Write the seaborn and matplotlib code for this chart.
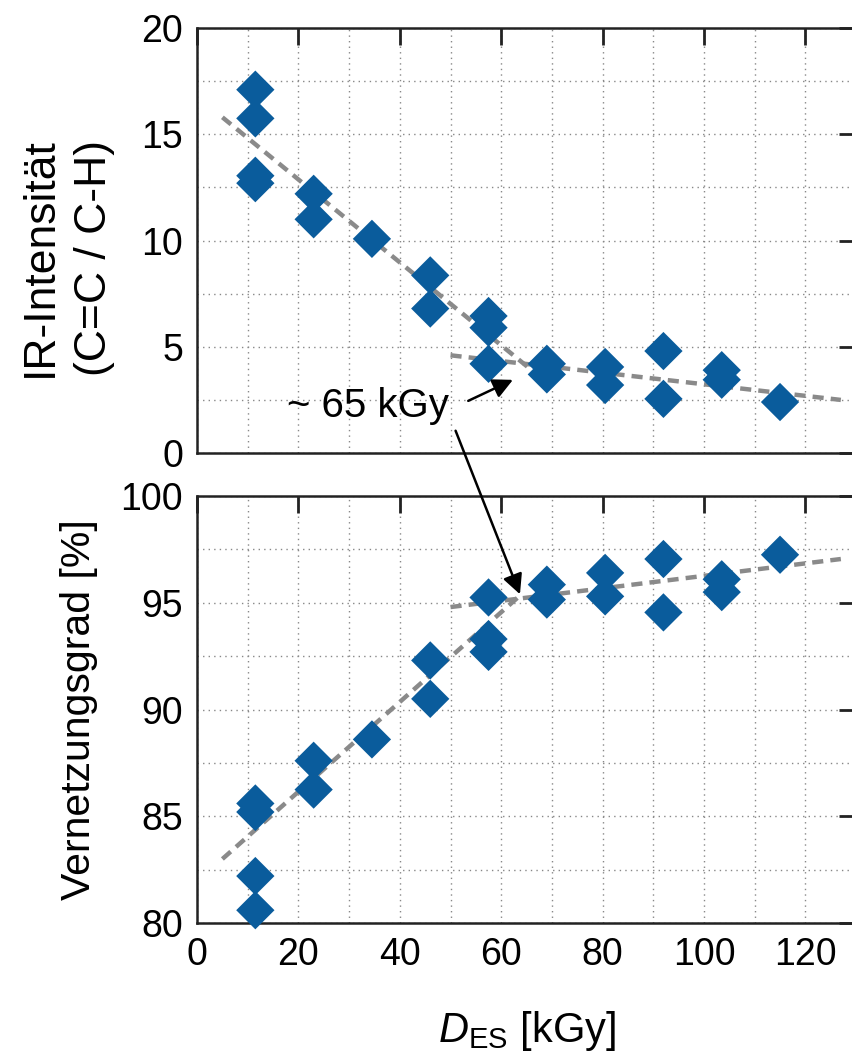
import numpy as np
import seaborn as sns
from matplotlib import pyplot as plt
from matplotlib.patches import ConnectionPatch

# Dose steps (kGy) for every measured point
dose_ir = [11.5, 11.5, 11.5, 11.5, 23, 23, 34.5, 46, 46, 57.5, 57.5, 57.5,
           69, 69, 80.5, 80.5, 92, 92, 103.5, 103.5, 115]
ir = [17.1, 15.75, 13.05, 12.7, 12.2, 11.0, 10.08, 8.36, 6.8, 6.45, 5.9, 4.2,
      4.2, 3.7, 4.05, 3.2, 4.8, 2.55, 3.9, 3.45, 2.4]

dose_vg = [11.5, 11.5, 11.5, 11.5, 23, 23, 34.5, 46, 46, 57.5, 57.5, 57.5,
           69, 69, 80.5, 80.5, 92, 92, 103.5, 103.5, 115]
vg = [85.6, 85.2, 82.2, 80.6, 87.6, 86.25, 88.6, 92.3, 90.5, 95.25, 93.3, 92.7,
      95.85, 95.15, 96.4, 95.3, 97.05, 94.55, 96.1, 95.5, 97.25]

# trend lines (end points)
ir_fit1_x, ir_fit1_y = [5, 66], [15.8, 3.9]
ir_fit2_x, ir_fit2_y = [50, 127], [4.6, 2.5]
vg_fit1_x, vg_fit1_y = [5, 64], [83.0, 95.4]
vg_fit2_x, vg_fit2_y = [50, 127], [94.8, 97.05]

blue = '#0a5c9c'
grey = '#8a8a8a'

sns.set_style('white')
plt.rcParams['font.family'] = ['Liberation Sans', 'DejaVu Sans']
plt.rcParams['font.size'] = 27
plt.rcParams['text.color'] = 'black'
plt.rcParams['axes.labelcolor'] = 'black'
plt.rcParams['xtick.color'] = 'black'
plt.rcParams['ytick.color'] = 'black'
plt.rcParams['mathtext.fontset'] = 'custom'
plt.rcParams['mathtext.it'] = 'Liberation Sans:italic'
plt.rcParams['mathtext.rm'] = 'Liberation Sans'

fig = plt.figure(figsize=(8.53, 10.59), dpi=100)
ax1 = fig.add_axes([0.231, 0.5722, 0.7726, 0.4013])
ax2 = fig.add_axes([0.231, 0.1284, 0.7726, 0.4032])


def style(ax, ymin, ymax):
    ax.set_xlim(0, 130)
    ax.set_ylim(ymin, ymax)
    ax.set_xticks(np.arange(0, 121, 20))
    ax.set_xticks(np.arange(10, 131, 20), minor=True)
    ax.set_yticks(np.arange(ymin, ymax + 0.1, 5))
    ax.set_yticks(np.arange(ymin + 2.5, ymax, 5), minor=True)
    ax.grid(True, which='both', linestyle=(0, (1, 3)), color='#888888', lw=1.0)
    ax.tick_params(which='major', direction='in', length=12, width=2,
                   top=True, right=True, color='#222222', pad=10,
                   labelsize=27)
    ax.tick_params(which='minor', length=0)
    for s in ax.spines.values():
        s.set_linewidth(1.8)
        s.set_color('#222222')
    ax.set_axisbelow(True)


for ax, x, y, f1x, f1y, f2x, f2y in [
        (ax1, dose_ir, ir, ir_fit1_x, ir_fit1_y, ir_fit2_x, ir_fit2_y),
        (ax2, dose_vg, vg, vg_fit1_x, vg_fit1_y, vg_fit2_x, vg_fit2_y)]:
    sns.lineplot(x=f1x, y=f1y, ax=ax, color=grey, lw=3.2,
                 linestyle=(0, (2.5, 1.6)), zorder=2)
    sns.lineplot(x=f2x, y=f2y, ax=ax, color=grey, lw=3.2,
                 linestyle=(0, (2.5, 1.6)), zorder=2)
    sns.scatterplot(x=x, y=y, ax=ax, marker='D', s=380, color=blue,
                    edgecolor='none', linewidth=0, zorder=3, clip_on=False)

style(ax1, 0, 20)
style(ax2, 80, 100)
ax1.set_xticklabels([])

ax1.set_ylabel('IR-Intensität\n(C=C / C-H)', linespacing=1.4, fontsize=32)
ax1.yaxis.set_label_coords(-0.125, 0.46)
ax2.set_ylabel('Vernetzungsgrad [%]', fontsize=29.5)
ax2.yaxis.set_label_coords(-0.15, 0.5)
ax2.set_xlabel(r'$D_{\mathrm{ES}}$ [kGy]', labelpad=26, fontsize=30)

ax1.text(17.7, 1.7, '~ 65 kGy', ha='left', va='baseline', fontsize=29, zorder=4)
ax1.annotate('', xy=(62.8, 3.5), xytext=(53, 2.4),
             arrowprops=dict(arrowstyle='-|>', color='black', lw=1.8,
                             mutation_scale=30), zorder=4)
con = ConnectionPatch(xyA=(51, 1.05), coordsA=ax1.transData,
                      xyB=(63.7, 95.4), coordsB=ax2.transData,
                      arrowstyle='-|>', color='black', lw=1.8,
                      mutation_scale=30, zorder=5)
fig.add_artist(con)

plt.savefig('out.png', dpi=100)
